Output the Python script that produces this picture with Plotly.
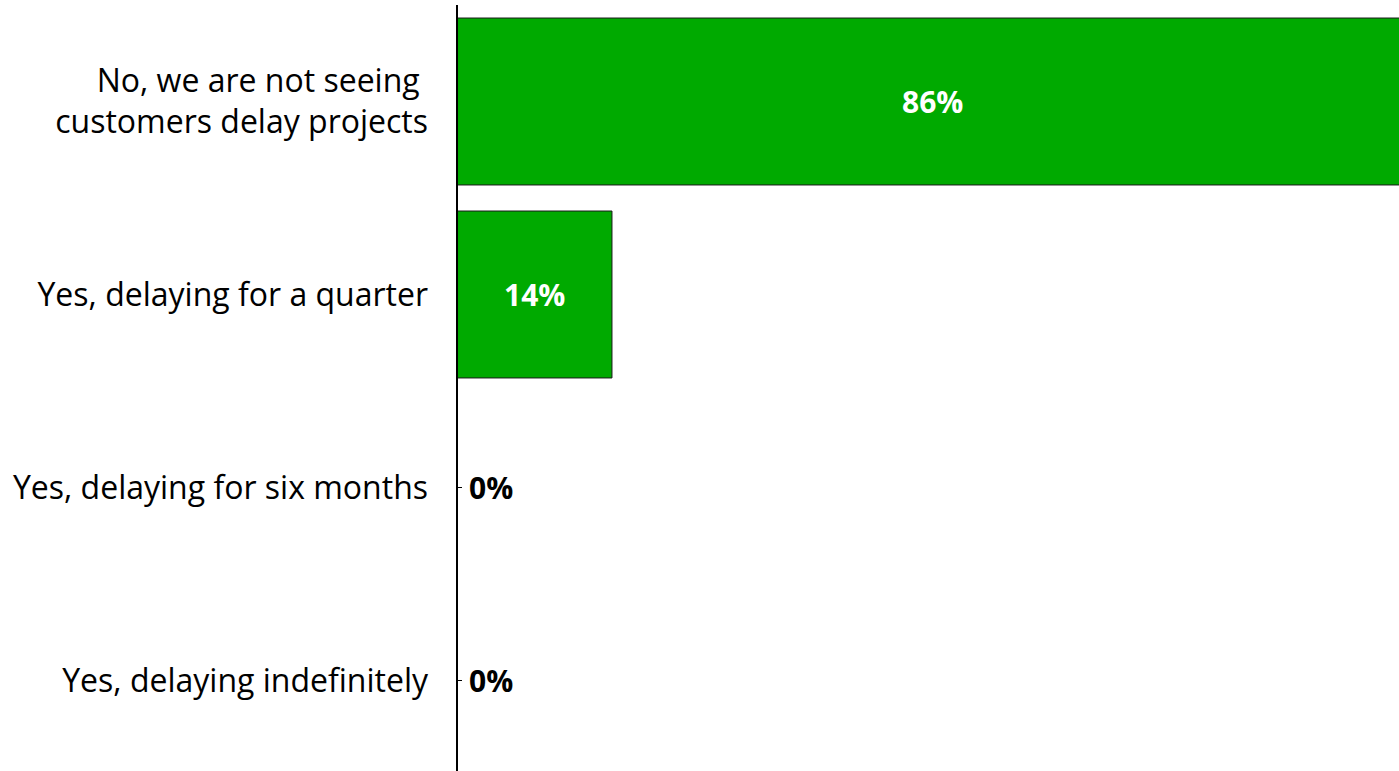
import plotly.graph_objects as go

categories = [
    "No, we are not seeing <br>customers delay projects",
    "Yes, delaying for a quarter",
    "Yes, delaying for six months",
    "Yes, delaying indefinitely",
]
shares = [86, 14, 0, 0]
labels = [f"{v}%" for v in shares]

FONT = "Open Sans"
BAR_GREEN = "#00AA00"

fig = go.Figure(
    go.Bar(
        y=categories,
        x=shares,
        orientation="h",
        marker=dict(color=BAR_GREEN, line=dict(color="#1a1a1a", width=1)),
        hoverinfo="skip",
    )
)

# Value labels: centred in the bar when it has length, just right of the axis otherwise
for cat, v, lab in zip(categories, shares, labels):
    inside = v > 0
    fig.add_annotation(
        x=v / 2 if inside else v,
        y=cat,
        xref="x",
        yref="y",
        text=f"<b>{lab}</b>",
        showarrow=False,
        xanchor="center" if inside else "left",
        xshift=0 if inside else 10,
        font=dict(family=FONT, size=30, color="white" if inside else "black"),
    )

# Vertical axis line, drawn over the bars
fig.add_shape(
    type="line",
    xref="paper",
    yref="paper",
    x0=0,
    x1=0,
    y0=0,
    y1=1,
    line=dict(color="black", width=2),
    layer="above",
)

fig.update_layout(
    width=1399,
    height=771,
    margin=dict(l=457, r=0, t=5, b=0),
    paper_bgcolor="white",
    plot_bgcolor="white",
    bargap=0.135,
    showlegend=False,
)

fig.update_xaxes(
    range=[0, 85.1],
    visible=False,
    showgrid=False,
    zeroline=False,
)

fig.update_yaxes(
    categoryorder="array",
    categoryarray=categories,
    range=[3.469, -0.5],
    showline=False,
    ticks="inside",
    ticklen=5,
    tickcolor="black",
    tickwidth=1,
    ticklabelstandoff=28,
    tickfont=dict(family=FONT, size=32, color="black"),
    showgrid=False,
    zeroline=False,
    layer="below traces",
)

fig.write_html("out.html", config={"displayModeBar": False})
